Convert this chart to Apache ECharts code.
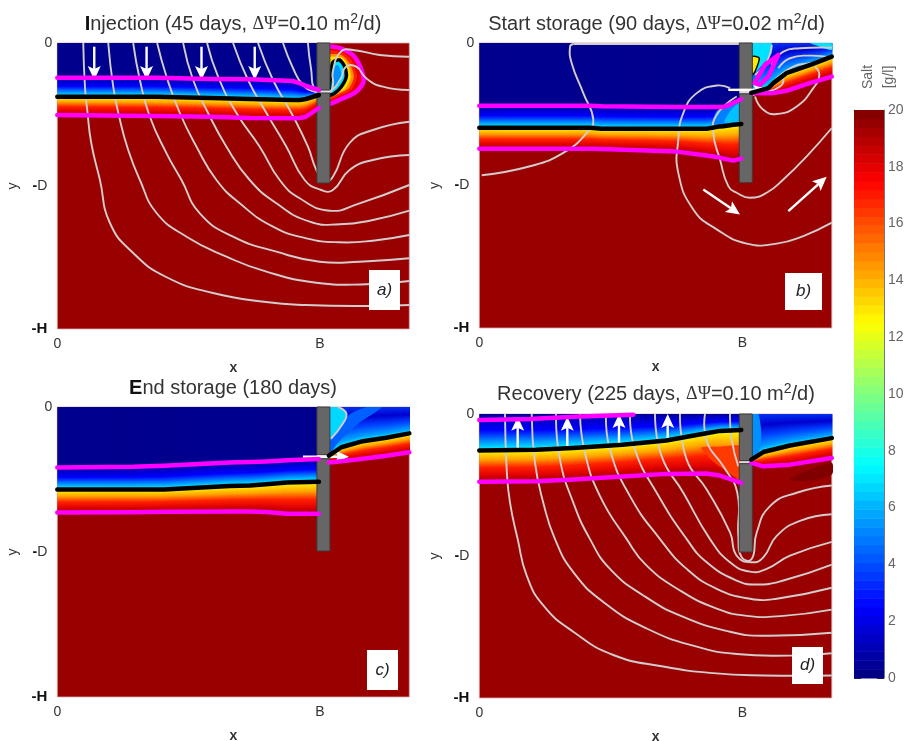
<!DOCTYPE html>
<html><head><meta charset="utf-8">
<script src="https://cdn.jsdelivr.net/npm/echarts@6/dist/echarts.min.js"></script>
<style>html,body{margin:0;padding:0;background:#fff}#c{width:905px;height:741px}</style></head>
<body><div id="c"></div>
<script>
// Axis ticks (distance units: B=263, D=143, H=286)
const xTickValues=[0,263], yTickValues=[0,143,286];
const xMax=352.5, yMax=286;
const saltTicks=[0,2,4,6,8,10,12,14,16,18,20];

// Panel a: interface depths
const aX=[0,99,153,193,236,243,249,262];
const aTop=[34.7,34.7,36,36.3,38,40.3,43,47];
const aMid=[53.7,53.7,55,56,57,57,56,52];
const aBot=[72,73,73.7,75,75.3,75,73.7,65];
const aStreams=[
[[26,0],[27.7,43.7],[30,67],[34,100],[42.7,137],[52.7,180],[76,210],[109,234],[156,250],[209,259],[249,262],[309,263],[352.5,262]],
[[51,0],[56,43.7],[62,73.7],[71,107],[82.7,137],[99.4,170],[129.4,193.7],[169.4,213.7],[209.4,228.7],[259.4,239.7],[309.4,241.3],[352.5,238]],
[[76,0],[82.7,37],[92.7,73.7],[109.4,110.3],[124.4,137],[142.7,170.3],[176,193.7],[219.4,208.7],[262.7,218.7],[302.7,218.7],[352.5,215.3]],
[[100,0],[109.4,33.7],[122.7,70],[139.4,103.7],[159.4,137],[182.7,160.3],[216,183.7],[249.4,195.3],[282.7,199.3],[316,197.7],[352.5,192]],
[[126,0],[136,37],[151,70],[169.4,103.7],[192.7,137],[219.4,160.3],[252.7,178.7],[282.7,181.3],[316,177],[352.5,167.7]],
[[150,0],[161,33.7],[179.4,70],[202.7,103.7],[222.7,137],[242.7,155.3],[272.7,167.7],[302.7,160.3],[352.5,142]],
[[176,0],[191,37],[209.4,70],[229.4,103.7],[247.7,137],[264.4,147],[276,147],[292.7,127],[316,117],[352.5,112]],
[[201,0],[216,37],[234.4,70],[251,103.7],[259.4,127],[267.7,138.7],[276,133.7],[292.7,100],[316,87],[352.5,78.7]],
[[226,0],[236,25],[246,42],[259,49],[272.7,49.3],[276,42],[276,28],[284,8.7],[296,7],[322.7,12],[352.5,13.7]],
[[251,0],[254,25],[259,47],[272.7,48],[284,35.3],[289,23.7],[299.4,23.7],[309.4,35.3],[326,43.7],[352.5,47]]
];
const aArrows=[[37,3.7,37,37],[89.4,3.7,89.4,37],[144.4,3.7,144.4,37],[197.7,3.7,197.7,37]];
const aBlob=[
{f:'#e80000',s:'#ff00ff',w:4.5,p:[[270,4.7],[284,5.3],[296,12],[304,25.3],[306.7,38.7],[299.4,48.7],[286,55.3],[270,60.3]]},
{f:'#ff2000',p:[[270,8.7],[284.4,9.3],[294.4,17],[300,33.7],[294.4,47],[282.7,52.7],[270,57]]},
{f:'#ff9000',p:[[270,12.7],[284.4,12],[292.7,20.3],[297,33.7],[292,45.3],[281,51.3],[270,54.7]]},
{f:'#ffe000',p:[[270,15.3],[284.4,14.3],[291,22],[294,33.7],[288.7,45.3],[279.4,50.3],[270,53]]},
{f:'#00e0ff',s:'#000000',w:3.5,p:[[276,19.3],[282.7,17],[287.7,23.7],[289.4,33.7],[284.4,43.7],[277.7,50.3],[272.7,52],[273.4,35.3]]},
{f:'#0090ff',p:[[277.7,23.7],[281,22],[284.4,30.3],[282.7,38.7],[277.7,45.3],[276,37]]}
];

// Panel b
const bX=[0,110.7,122.4,197.4,227.4,240.7,244,254,262];
const bTop=[63,63,63.5,64.3,64.3,64.3,64.3,60.3,56.3];
const bMid=[85,85,86,86,86,83.7,83.5,82,81.3];
const bBot=[106,106,106.3,109,113,115,116,118,116];
const bRX=[272,289,294,307,331,352.5];
const bRMid=[50,45.3,40.3,30.3,22,13.7];
const bRBot=[50.3,50.5,50.3,48,40,33.7];
const bStreams=[
[[2.4,132.7],[50.7,123.7],[84,110.3],[107.4,90.3],[114,77],[104,50.3],[92.4,20.3],[90.7,3.7],[94,1]],
[[94,1],[260,1]],
[[250.7,45.3],[237.4,42.7],[217.4,50.3],[204,70.3],[199,97],[199,130.3],[214,167],[237.4,187],[267.4,201.3],[297.4,201.3],[324,193.7],[352.5,180.3]],
[[257.4,53.7],[237.4,72],[234,90.3],[240.7,117],[249,143.7],[257.4,150.3],[270.7,155.3],[287.4,150.3],[304,137],[327.4,113.7],[352.5,85.3]],
[[275.7,53.7],[284,67],[297.4,71.3],[317.4,63.7],[334,45.3],[340,32],[335.7,23.7]],
[[289,48.7],[300.7,43.7],[304,37],[299,33.7]],
[[275.7,32],[287.4,18.7],[292.4,2]],
[[292.4,22],[304,8.7],[320.7,5.3],[352.5,4.7]],
[[299,25.3],[310.7,15.3],[330.7,12.7],[352.5,14.7]],
[[294,38.7],[314,23.7],[330.7,20.3],[344,18]]
];
const bArrows=[[249,47,287.4,47],[224,147,260.7,172],[309,168.7,347.4,134.3]];
const bPatches=[
{f:'#0080ff',p:[[234,82],[237,68.7],[244,65],[261,57],[261,82]]},
{f:'#00c0ff',p:[[245,80],[252,67],[261,60],[261,80]]},
{f:'#00e0ff',p:[[273,0],[292,0],[292.4,10],[285.7,18.7],[275.7,30],[273,30]]},
{f:'#ffe800',s:'#000000',w:1.5,p:[[273,13.7],[280,15.3],[275.7,28.7],[273,32]]},
{f:'#00e0ff',p:[[330.7,0.3],[352.5,0.3],[352.5,7],[340.7,3.7]]}
];
const bFinger=[[275.4,40.3],[285.7,22],[299,12],[289,33.7],[280.7,42],[275.4,40.3]];

// Panel c
const cX=[0,76,107,172.7,193,209.4,230,262];
const cTop=[59.7,59,58,54.7,54.3,53.7,52.5,51.3];
const cMid=[81.3,81.3,81.3,78,77.5,76.3,74.5,73.7];
const cBot=[104,103.7,103.3,103,103,103.5,105.3,105.3];
const cRX=[272,284.4,306,329.4,352.5];
const cRMid=[48,39.7,33.7,30.3,26];
const cRBot=[54.7,53.5,51,48,44.7];
const cArrows=[[246,49,292,49]];
const cPatches=[
{f:'#0060ff',p:[[272.7,33],[292,8],[310,0],[325,0],[302,16],[282,34],[272.7,46]]},
{f:'#00d8ff',p:[[272.7,0],[281,0],[289.4,6.3],[286,16.3],[274,31.3],[272.7,33]]}
];
const cStreams=[[[281,0],[289.4,6.3],[286,16.3],[274,31.3]]];

// Panel d
const dX=[0,57,94,143,187,227,240.7,262];
const dMid=[36.7,36,34.3,31,26.7,19.3,17,16];
const dBot=[68.3,67.7,66,63,60.3,60,62,69.3];
const dCapX=[0,50.7,94,154];
const dCap=[6,5,2.7,0.7];
const dRX=[272,284,310.7,352.5];
const dRMid=[46,38.3,31.7,24.3];
const dRBot=[49.3,52.7,51,44.3];
const dPatches=[
{f:'#ff3a00',p:[[222,34],[240,33],[261,33],[261,66],[245,56],[232,46]]},
{f:'#0090ff',p:[[273,0],[279,0],[282,20],[280,37],[273,44]]},
{f:'#800000',p:[[310.7,66],[330.7,56],[352.5,49.3],[352.5,61],[327.4,67.7]]}
];
const dStreams=[
[[25.7,0],[27.4,56],[30.7,89.3],[38.4,126],[47.4,162.7],[64,192.7],[94,219.3],[134,242.7],[184,254.3],[234,261],[284,263.3],[352.5,263.3]],
[[52.4,0],[55.7,49.3],[64,89.3],[75.7,126],[94,159.3],[124,189.3],[167.4,216],[217.4,234.3],[257.4,241.7],[310.7,243.3],[352.5,241]],
[[76.7,0],[80.7,46],[94,89.3],[110.7,126],[130.7,156],[164,182.7],[204,204.3],[250.7,219.3],[284,223.3],[352.5,220.3]],
[[100.7,0],[105.7,39.3],[120.7,82.7],[147.4,126],[167.4,152.7],[200.7,177.7],[237.4,196],[267.4,203.3],[304,203.3],[352.5,197]],
[[126.7,0],[130.7,36],[150.7,82.7],[180.7,126],[207.4,156],[237.4,176],[270.7,186],[297.4,186],[352.5,175]],
[[150.7,0],[155.7,36],[177.4,79.3],[207.4,126],[227.4,149.3],[257.4,167.7],[277.4,171.7],[304,167.7],[352.5,151.7]],
[[175.7,0],[182.4,42.7],[204,79.3],[230.7,126],[250.7,149.3],[270.7,158.7],[287.4,156],[310.7,142.7],[352.5,128.7]],
[[200.7,0],[207.4,46],[227.4,76],[250.7,119.3],[257.4,142.7],[272.4,149.3],[284,144.3],[297.4,122.7],[320.7,107.7],[352.5,101]],
[[225.7,0],[227.4,27.7],[244,52.7],[258,79.3],[259,122.7],[262.4,144.3],[272.4,146],[277.4,119.3],[290.7,92.7],[317.4,79.3],[352.5,72]],
[[250.7,0],[252.4,26],[259,52.7]]
];
const dArrows=[[38.4,36,38.4,2.7],[88,36,88,2.7],[139.7,31,139.7,0],[188.4,27.7,188.4,0]];

// Well: left, right, gap top, gap bottom, base
const wellA=[260,273,47,50,140];
const wellB=[260,273,47,51,140];
const wellC=[260,273,47,51,142];
const wellD=[260,273,47,50,139];

const titles=[
['{b|I}njection (45 days, {g|ΔΨ}=0{b|.}10 m{s|2}/d)',233,12],
['Start storage (90 days, {g|ΔΨ}=0{b|.}02 m{s|2}/d)',656.5,12],
['{b|E}nd storage (180 days)',233,378],
['Recovery (225 days, {g|ΔΨ}=0.10 m{s|2}/d)',656,382]
];
const grids=[[57.3,43,352,286],[479.3,43,352.5,285],[57.3,407,352,290],[479.3,414,352.5,284]];
const letters=[['a)',369,270,31,40],['b)',785,273,37,37],['c)',367,650,31,40],['d)',792,647,31,37]];

const FONT='"Liberation Sans",Arial,sans-serif';
const upper=[[0,'#000090'],[.18,'#0000c8'],[.45,'#0000ff'],[.75,'#0090ff'],[1,'#00ffff']];
const lower=[[0,'#ffff00'],[.3,'#ffa000'],[.55,'#ff2000'],[.8,'#e00000'],[1,'#990000']];
const rightUp=[[0,'#0030f0'],[.28,'#0000d0'],[.55,'#0040ff'],[.85,'#00a0ff'],[1,'#00ffff']];
const navy=[[0,'#00008f'],[1,'#00008f']];
const zeros=a=>a.map(()=>0);
const cs=st=>st.map(s=>({offset:s[0],color:s[1]}));

function band(g,xs,tops,bots,stops){
  const rows=xs.map((x,i)=>[x,tops[i],bots[i]]);
  return {type:'custom',xAxisIndex:g,yAxisIndex:g,clip:true,silent:true,animation:false,data:rows,encode:{x:0,y:[1,2]},
    renderItem(params,api){
      const i=params.dataIndex; if(i>=rows.length-1) return;
      const a=rows[i],b=rows[i+1];
      const pa=api.coord([a[0],a[1]]),pb=api.coord([b[0],b[1]]);
      const qa=api.coord([a[0],a[2]]),qb=api.coord([b[0],b[2]]);
      const n=Math.max(1,Math.ceil((pb[0]-pa[0])/2)),ch=[];
      for(let k=0;k<n;k++){
        const t=(k+.5)/n,x=pa[0]+(pb[0]-pa[0])*k/n,w=(pb[0]-pa[0])/n+.7;
        const y0=pa[1]+(pb[1]-pa[1])*t,y1=qa[1]+(qb[1]-qa[1])*t;
        ch.push({type:'rect',shape:{x,y:y0,width:w,height:Math.max(y1-y0,.1)},
          style:{fill:{type:'linear',x:0,y:y0,x2:0,y2:y1,global:true,colorStops:cs(stops)}}});
      }
      return {type:'group',children:ch};
    }};
}
function patches(g,list){
  return {type:'custom',xAxisIndex:g,yAxisIndex:g,clip:true,silent:true,animation:false,data:list.map((_,i)=>[i]),encode:{x:-1,y:-1},
    renderItem(params,api){
      const p=list[params.dataIndex];
      return {type:'polygon',shape:{points:p.p.map(q=>api.coord(q)),smooth:0.25},
        style:{fill:p.f,stroke:p.s||null,lineWidth:p.w||0}};
    }};
}
function line(g,pts,color,width){
  return {type:'line',xAxisIndex:g,yAxisIndex:g,data:pts,symbol:'none',silent:true,animation:false,clip:true,
    lineStyle:{color,width,cap:'round',join:'round'}};
}
const zip=(xs,ys)=>xs.map((x,i)=>[x,ys[i]]);
function streams(g,list){
  return {type:'custom',xAxisIndex:g,yAxisIndex:g,clip:true,silent:true,animation:false,data:list.map((_,i)=>[i]),encode:{x:-1,y:-1},
    renderItem(params,api){
      return {type:'polyline',shape:{points:list[params.dataIndex].map(q=>api.coord(q)),smooth:0.5},
        style:{fill:null,stroke:'#d2cccc',lineWidth:1.9,lineJoin:'round'}};
    }};
}
function well(g,w){
  return {type:'custom',xAxisIndex:g,yAxisIndex:g,silent:true,animation:false,data:[w],encode:{x:-1,y:-1},
    renderItem(params,api){
      const a=api.coord([w[0],0]),b=api.coord([w[1],w[2]]),c=api.coord([w[0],w[3]]),d=api.coord([w[1],w[4]]);
      const st={fill:'#666666',stroke:'#3d3d3d',lineWidth:1};
      return {type:'group',children:[
        {type:'rect',shape:{x:a[0],y:b[1],width:b[0]-a[0],height:c[1]-b[1]},style:{fill:'#dddddd'}},
        {type:'rect',shape:{x:a[0],y:a[1],width:b[0]-a[0],height:b[1]-a[1]},style:st},
        {type:'rect',shape:{x:c[0],y:c[1],width:d[0]-c[0],height:d[1]-c[1]},style:st}]};
    }};
}
function arrows(g,list){
  return {type:'custom',xAxisIndex:g,yAxisIndex:g,silent:true,animation:false,data:list,encode:{x:-1,y:-1},
    renderItem(params,api){
      const r=list[params.dataIndex],p=api.coord([r[0],r[1]]),q=api.coord([r[2],r[3]]);
      const an=Math.atan2(q[1]-p[1],q[0]-p[0]),ux=Math.cos(an),uy=Math.sin(an),L=14,W=6.5;
      const nx=-uy,ny=ux,bx=q[0]-ux*L,by=q[1]-uy*L,mx=q[0]-ux*(L-3),my=q[1]-uy*(L-3);
      return {type:'group',children:[
        {type:'line',shape:{x1:p[0],y1:p[1],x2:mx,y2:my},style:{stroke:'#ffffff',lineWidth:2.4}},
        {type:'polygon',shape:{points:[q,[bx+nx*W,by+ny*W],[mx,my],[bx-nx*W,by-ny*W]]},style:{fill:'#ffffff'}}]};
    }};
}

const series=[];
// a
series.push(band(0,aX,zeros(aX),aTop,navy),band(0,aX,aTop,aMid,upper),band(0,aX,aMid,aBot,lower));
series.push(patches(0,aBlob));
series.push(line(0,zip(aX,aTop),'#ff00ff',4.5),line(0,zip(aX,aBot),'#ff00ff',4.5),line(0,zip(aX,aMid),'#000000',4.5));
series.push(streams(0,aStreams),well(0,wellA),arrows(0,aArrows));
// b
series.push(band(1,bX,zeros(bX),bTop,navy),band(1,bX,bTop,bMid,upper),band(1,bX,bMid,bBot,lower));
series.push(band(1,bRX,zeros(bRX),bRMid,rightUp),band(1,bRX,bRMid,bRBot,lower));
series.push(patches(1,bPatches));
series.push(line(1,zip(bX,bTop),'#ff00ff',4.5),line(1,zip(bX,bBot),'#ff00ff',4.5),line(1,zip(bX,bMid),'#000000',4.5));
series.push(line(1,zip(bRX,bRBot),'#ff00ff',4.5),line(1,zip(bRX,bRMid),'#000000',4.5),line(1,bFinger,'#ff00ff',4.5));
series.push(streams(1,bStreams),well(1,wellB),arrows(1,bArrows));
// c
series.push(band(2,cX,zeros(cX),cTop,navy),band(2,cX,cTop,cMid,upper),band(2,cX,cMid,cBot,lower));
series.push(band(2,cRX,zeros(cRX),cRMid,rightUp),band(2,cRX,cRMid,cRBot,lower));
series.push(patches(2,cPatches));
series.push(line(2,zip(cX,cTop),'#ff00ff',4.5),line(2,zip(cX,cBot),'#ff00ff',4.5),line(2,zip(cX,cMid),'#000000',4.5));
series.push(line(2,zip(cRX,cRBot),'#ff00ff',4.5),line(2,zip(cRX,cRMid),'#000000',4.5));
series.push(streams(2,cStreams),well(2,wellC),arrows(2,cArrows));
// d
series.push(band(3,dX,zeros(dX),dMid,upper),band(3,dX,dMid,dBot,lower));
series.push(band(3,dRX,zeros(dRX),dRMid,rightUp),band(3,dRX,dRMid,dRBot,lower));
series.push(patches(3,dPatches));
series.push(line(3,zip(dCapX,dCap),'#ff00ff',4.5),line(3,zip(dX,dBot),'#ff00ff',4.5),line(3,zip(dX,dMid),'#000000',4.5));
series.push(line(3,zip(dRX,dRBot),'#ff00ff',4.5),line(3,zip(dRX,dRMid),'#000000',4.5));
series.push(streams(3,dStreams),well(3,wellD),arrows(3,dArrows));

// colour bar
const jet=t=>{const c=v=>Math.round(255*Math.max(0,Math.min(1,1.5-Math.abs(4*t-v))));return `rgb(${c(3)},${c(2)},${c(1)})`;};
const barLevels=[];for(let i=0;i<64;i++)barLevels.push([i*20/64,(i+1)*20/64]);
series.push({type:'custom',xAxisIndex:4,yAxisIndex:4,silent:true,animation:false,data:barLevels,encode:{y:[0,1],x:-1},
  renderItem(params,api){
    const r=barLevels[params.dataIndex],a=api.coord([0,r[1]]),b=api.coord([1,r[0]]);
    return {type:'rect',shape:{x:a[0],y:a[1],width:b[0]-a[0],height:b[1]-a[1]+.5},style:{fill:jet((r[0]+r[1])/40)}};
  }});

const xAxes=[],yAxes=[],gridOpt=[];
grids.forEach((g,i)=>{
  gridOpt.push({left:g[0],top:g[1],width:g[2],height:g[3],outerBoundsMode:'none',show:true,backgroundColor:'#990000',borderColor:'rgba(215,170,170,.8)',borderWidth:1,containLabel:false});
  xAxes.push({type:'value',gridIndex:i,min:0,max:xMax,name:'x',nameLocation:'middle',nameGap:32,
    nameTextStyle:{fontFamily:FONT,fontSize:14,fontWeight:'bold',color:'#333'},
    axisLine:{show:false},axisTick:{show:false},splitLine:{show:false},
    axisLabel:{customValues:xTickValues,margin:8,fontFamily:FONT,fontSize:14,color:'#333',formatter:v=>v===0?'0':'B',showMaxLabel:true,showMinLabel:true}});
  yAxes.push({type:'value',gridIndex:i,min:0,max:yMax,inverse:true,name:'y',nameLocation:'middle',nameRotate:90,nameGap:37,
    nameTextStyle:{fontFamily:FONT,fontSize:14,color:'#333'},
    axisLine:{show:false},axisTick:{show:false},splitLine:{show:false},
    axisLabel:{customValues:yTickValues,margin:5,fontFamily:FONT,fontSize:14,color:'#333',
      formatter:v=>v===0?'0':(v===143?'{bd|-}{pl|D}':'{bh|-H}'),
      rich:{bd:{fontFamily:FONT,fontSize:14,fontWeight:'bold',color:'#111'},
            pl:{fontFamily:FONT,fontSize:14,color:'#333',padding:[0,5,0,0]},
            bh:{fontFamily:FONT,fontSize:15,fontWeight:'bold',color:'#111',padding:[0,5,0,0]}}}});
});
gridOpt.push({left:854,top:110,width:30,height:568,outerBoundsMode:'none',show:false});
xAxes.push({type:'value',gridIndex:4,min:0,max:1,show:false});
yAxes.push({type:'value',gridIndex:4,min:0,max:20,interval:2,position:'right',
  axisLine:{show:true,onZero:false,lineStyle:{color:'#777',width:1}},
  axisTick:{show:true,inside:true,length:7,lineStyle:{color:'#333',width:1}},splitLine:{show:false},
  axisLabel:{margin:4,fontFamily:FONT,fontSize:14,color:'#666',formatter:v=>saltTicks.includes(v)?String(v):''}});
yAxes.push({type:'value',gridIndex:4,min:0,max:20,interval:2,position:'left',
  axisLine:{show:true,onZero:false,lineStyle:{color:'#777',width:1}},
  axisTick:{show:true,inside:true,length:7,lineStyle:{color:'#333',width:1}},splitLine:{show:false},axisLabel:{show:false}});

const graphic=[];
letters.forEach(l=>{
  graphic.push({type:'rect',z:100,shape:{x:l[1],y:l[2],width:l[3],height:l[4]},style:{fill:'#fff'}});
  graphic.push({type:'text',z:101,x:l[1]+l[3]/2,y:l[2]+l[4]/2,style:{text:l[0],fill:'#222',font:'italic 17px '+FONT,textAlign:'center',textVerticalAlign:'middle'}});
});
graphic.push({type:'text',z:101,x:868,y:77,rotation:Math.PI/2,style:{text:'Salt',fill:'#666',font:'14px '+FONT,textAlign:'center',textVerticalAlign:'middle'}});
graphic.push({type:'text',z:101,x:889,y:77,rotation:Math.PI/2,style:{text:'[g/l]',fill:'#666',font:'14px '+FONT,textAlign:'center',textVerticalAlign:'middle'}});

const chart=echarts.init(document.getElementById('c'),null,{renderer:'canvas'});
chart.setOption({animation:false,backgroundColor:'#fff',
  title:titles.map(t=>({text:t[0],left:t[1],top:t[2],textAlign:'center',padding:0,
    textStyle:{fontFamily:FONT,fontSize:20,fontWeight:'normal',color:'#333',
      rich:{b:{fontFamily:FONT,fontSize:20,fontWeight:'bold',color:'#111'},
            g:{fontFamily:'"Liberation Serif",serif',fontSize:18,color:'#333'},
            s:{fontFamily:FONT,fontSize:14,color:'#333',padding:[0,0,11,0]}}}})),
  grid:gridOpt,xAxis:xAxes,yAxis:yAxes,series,graphic});
</script></body></html>
